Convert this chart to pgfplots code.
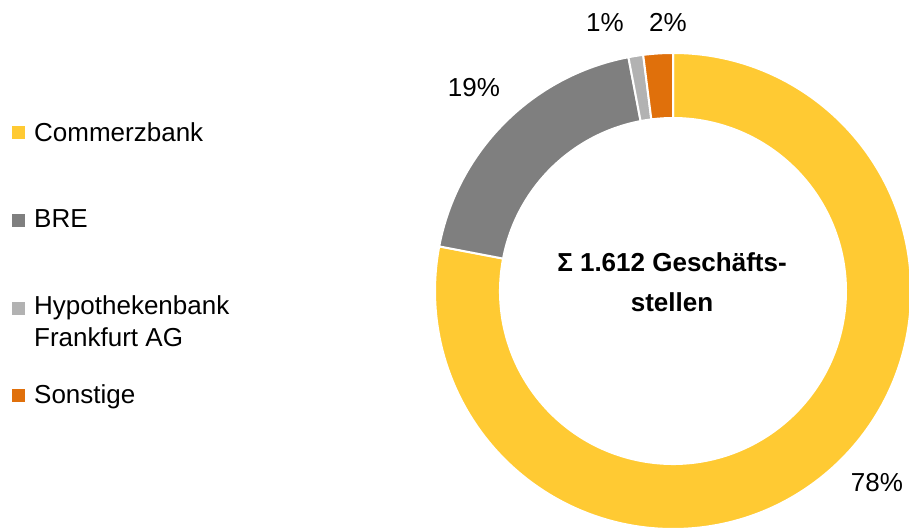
\documentclass[border=0pt]{standalone}
\usepackage{pgfplots}
\usepackage{pgfplotstable}
\pgfplotsset{compat=1.18}
\usepackage{fontspec}
\setmainfont{Liberation Sans}

\definecolor{cbyellow}{HTML}{FFCA33}
\definecolor{cbgray}{HTML}{7F7F7F}
\definecolor{cblight}{HTML}{B2B2B2}
\definecolor{cborange}{HTML}{E0700B}

% Anteile der Geschäftsstellen (im Uhrzeigersinn ab 12 Uhr)
\pgfplotstableread{
share col
78 cbyellow
19 cbgray
1 cblight
2 cborange
}\shares

\begin{document}
\begin{tikzpicture}[lbl/.style={inner sep=0pt, font=\fontsize{26}{30}\selectfont}]
\begin{axis}[
  width=909pt, height=529pt, scale only axis,
  xmin=0, xmax=909, ymin=0, ymax=529,
  hide axis, clip=false,
]
% Donut-Segmente
\def\startang{90}
\pgfplotsforeachungrouped \i in {0,...,3}{
  \pgfplotstablegetelem{\i}{share}\of\shares \let\share\pgfplotsretval
  \pgfplotstablegetelem{\i}{col}\of\shares \let\col\pgfplotsretval
  \pgfmathsetmacro\endang{\startang-3.6*\share}
  \edef\temp{\noexpand\fill[\col, draw=white, line width=2pt]
    ([shift={(\startang:238pt)}]axis cs:673,238)
    arc[start angle=\startang, end angle=\endang, radius=238pt]
    -- ([shift={(\endang:173pt)}]axis cs:673,238)
    arc[start angle=\endang, end angle=\startang, radius=173pt] -- cycle;}
  \temp
  \let\startang\endang
}

% Legende
\addplot[only marks, mark=square*, mark size=6pt, cbyellow, draw=cbyellow] coordinates {(18,397)};
\addplot[only marks, mark=square*, mark size=6pt, cbgray, draw=cbgray] coordinates {(18,309)};
\addplot[only marks, mark=square*, mark size=6pt, cblight, draw=cblight] coordinates {(18,221)};
\addplot[only marks, mark=square*, mark size=6pt, cborange, draw=cborange] coordinates {(18,134)};

\node[lbl, anchor=base west] at (axis cs:34,387) {Commerzbank};
\node[lbl, anchor=base west] at (axis cs:34,301) {BRE};
\node[lbl, anchor=base west] at (axis cs:34,214) {Hypothekenbank};
\node[lbl, anchor=base west] at (axis cs:34,182) {Frankfurt AG};
\node[lbl, anchor=base west] at (axis cs:34,125) {Sonstige};

% Prozentwerte
\node[lbl, anchor=base] at (axis cs:474,432) {19\%};
\node[lbl, anchor=base] at (axis cs:605,497) {1\%};
\node[lbl, anchor=base] at (axis cs:668,497) {2\%};
\node[lbl, anchor=base] at (axis cs:877,37) {78\%};

% Mitte
\node[lbl, anchor=base, font=\fontsize{26}{30}\selectfont\bfseries] at (axis cs:672,257) {Σ 1.612 Geschäfts-};
\node[lbl, anchor=base, font=\fontsize{26}{30}\selectfont\bfseries] at (axis cs:672,217) {stellen};
\end{axis}
\pgfresetboundingbox
\path (0,0) rectangle (909pt,529pt);
\end{tikzpicture}
\end{document}
